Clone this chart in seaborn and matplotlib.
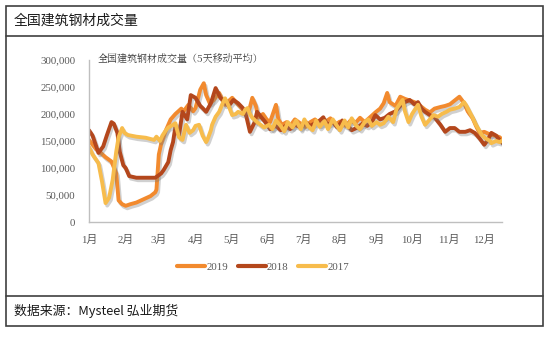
import numpy as np
import pandas as pd
import matplotlib
matplotlib.use("Agg")
import matplotlib.pyplot as plt
import matplotlib.patheffects as pe
from matplotlib.patches import Rectangle
from matplotlib.lines import Line2D
import seaborn as sns

# ---------------- data (day of year, volume in tonnes) ----------------
days_2019 = [0, 6, 10, 14, 19, 23, 25, 28, 31, 35, 40, 44, 48, 52, 56, 57, 59, 61, 65, 69,
             73, 78, 80, 84, 88, 90, 94, 97, 99, 102, 105, 110, 113, 115, 119, 121, 125, 128,
             131, 135, 138, 141, 143, 147, 150, 153, 158, 160, 163, 167, 170, 174, 179, 183,
             187, 191, 195, 200, 204, 208, 212, 217, 221, 225, 229, 233, 238, 242, 246, 249,
             252, 254, 259, 263, 267, 271, 275, 280, 284, 288, 292, 297, 301, 305, 309, 313,
             317, 320, 324, 327, 330, 334, 339, 343, 347, 350]
vals_2019 = [152, 135, 128, 120, 112, 90, 40, 33, 30, 33, 36, 40, 44, 48, 55, 60, 125, 145, 170, 190,
             200, 210, 205, 217, 205, 211, 245, 257, 235, 220, 225, 239, 225, 217, 226, 230, 220, 213,
             205, 204, 230, 215, 193, 200, 190, 185, 217, 190, 180, 185, 178, 190, 182, 176,
             185, 190, 180, 186, 192, 180, 186, 178, 188, 183, 193, 185, 195, 203, 210, 220,
             239, 222, 215, 232, 228, 225, 222, 215, 208, 203, 210, 213, 215, 218, 225, 232,
             220, 205, 193, 178, 165, 167, 162, 160, 157, 150]

days_2018 = [0, 3, 8, 12, 15, 19, 21, 24, 26, 29, 31, 34, 40, 48, 56, 61, 63, 67, 69, 71,
             73, 76, 79, 83, 86, 90, 94, 96, 99, 103, 107, 111, 115, 118, 122, 126, 130, 133,
             136, 140, 142, 146, 149, 153, 158, 162, 166, 170, 174, 179, 183, 187, 191, 195,
             198, 201, 206, 210, 214, 218, 222, 227, 231, 235, 239, 242, 246, 250, 254, 259,
             263, 267, 271, 275, 278, 281, 284, 288, 292, 297, 301, 305, 309, 313, 318, 322,
             326, 330, 334, 337, 340, 344, 347, 350]
vals_2018 = [170, 160, 128, 140, 160, 185, 182, 165, 130, 105, 100, 85, 82, 82, 82, 90, 96, 111, 133, 148,
             176, 160, 204, 190, 235, 230, 215, 211, 204, 220, 248, 230, 222, 215, 226, 220, 211, 195,
             167, 185, 204, 193, 185, 172, 178, 170, 178, 172, 180, 175, 185, 178, 183, 188,
             194, 180, 185, 175, 188, 180, 170, 175, 182, 178, 185, 198, 190, 193, 200, 205,
             215, 222, 226, 218, 222, 210, 204, 198, 194, 180, 167, 174, 174, 167, 167, 170,
             165, 155, 143, 152, 165, 160, 152, 145]

days_2017 = [0, 3, 8, 11, 14, 17, 20, 23, 25, 28, 30, 33, 40, 48, 55, 57, 60, 62, 65, 67,
             71, 73, 76, 79, 82, 85, 88, 90, 93, 96, 99, 100, 103, 104, 107, 110, 113, 115,
             118, 121, 124, 126, 130, 132, 134, 136, 138, 142, 145, 148, 152, 155, 158, 162,
             165, 168, 172, 175, 179, 182, 185, 189, 192, 195, 199, 202, 206, 209, 212, 216,
             219, 222, 226, 229, 233, 236, 239, 243, 246, 249, 253, 257, 260, 265, 267, 270,
             273, 278, 281, 284, 288, 291, 295, 298, 302, 305, 309, 313, 317, 319, 324, 327,
             332, 335, 339, 340, 344, 347, 350]
vals_2017 = [139, 125, 109, 75, 35, 45, 78, 130, 157, 174, 165, 161, 158, 156, 152, 158, 150, 160, 170, 175,
             180, 183, 157, 152, 180, 165, 170, 178, 180, 160, 148, 152, 170, 180, 195, 204, 220, 229,
             215, 198, 200, 204, 200, 208, 211, 200, 193, 185, 180, 175, 180, 172, 188, 178,
             168, 185, 175, 188, 172, 190, 178, 170, 188, 176, 187, 172, 190, 180, 170, 188,
             175, 192, 178, 172, 185, 190, 178, 185, 180, 183, 195, 185, 210, 226, 205, 185,
             200, 217, 195, 180, 190, 198, 195, 200, 204, 208, 210, 213, 222, 215, 194, 180,
             161, 155, 150, 146, 150, 148, 152]

years = ["2019", "2018", "2017"]
month_labels = ["1月", "2月", "3月", "4月", "5月", "6月", "7月", "8月", "9月", "10月", "11月", "12月"]
month_start_days = [0, 31, 59, 90, 120, 151, 181, 212, 243, 273, 304, 334]
y_ticks = [0, 50000, 100000, 150000, 200000, 250000, 300000]

series = {"2019": (days_2019, vals_2019),
          "2018": (days_2018, vals_2018),
          "2017": (days_2017, vals_2017)}
frames = []
for y in years:
    d, v = series[y]
    frames.append(pd.DataFrame({"day": d, "value": np.array(v) * 1000, "year": y}))
df = pd.concat(frames, ignore_index=True)

colors = {"2019": "#F28A2E", "2018": "#B4471C", "2017": "#F7BC4C"}

# ---------------- figure ----------------
sns.set_style("white")
plt.rcParams["font.family"] = ["Liberation Serif", "Noto Sans CJK SC", "DejaVu Sans"]

W, H = 550, 339
fig = plt.figure(figsize=(W / 100, H / 100), dpi=100)
ax = fig.add_axes([89 / W, 1 - 222 / H, (502 - 89) / W, (222 - 60) / H])

sns.lineplot(data=df, x="day", y="value", hue="year", hue_order=years,
             palette=colors, sort=False, estimator=None, linewidth=2.8,
             ax=ax, legend=False)

for line in ax.get_lines():
    line.set_solid_joinstyle("round")
    line.set_solid_capstyle("round")
    line.set_path_effects([pe.SimpleLineShadow(offset=(1.2, -1.8), shadow_color="#7a7a7a",
                                               alpha=0.35),
                           pe.Normal()])

ax.set_xlim(0, 349)
ax.set_ylim(0, 300000)
ax.set_xticks(month_start_days)
ax.set_xticklabels(month_labels)
ax.set_yticks(y_ticks)
ax.set_yticklabels([f"{t:,}" for t in y_ticks])
ax.set_xlabel("")
ax.set_ylabel("")
for s in ["top", "right"]:
    ax.spines[s].set_visible(False)
for s in ["left", "bottom"]:
    ax.spines[s].set_color("#bfbfbf")
    ax.spines[s].set_linewidth(1.0)
ax.tick_params(axis="both", length=0, labelsize=7.8, colors="#595959")
ax.tick_params(axis="x", pad=9)
ax.tick_params(axis="y", pad=10)

ax.text(0.02, 1.0, "全国建筑钢材成交量（5天移动平均）", transform=ax.transAxes,
        fontsize=7.2, color="#404040", va="center", ha="left",
        family=["Noto Serif CJK SC", "Noto Sans CJK SC", "DejaVu Sans"])

handles = [Line2D([0], [0], color=colors[y], lw=3) for y in years]
fig.legend(handles, years, loc="center", bbox_to_anchor=(263 / W, 1 - 267 / H),
           ncol=3, frameon=False, fontsize=7.8, handlelength=2.6, handletextpad=0.1,
           columnspacing=0.9, labelcolor="#595959")

# ---------------- frame and header / footer ----------------
border = "#3f3f3f"
fig.add_artist(Rectangle((6 / W, 1 - 326 / H), (543 - 6) / W, (326 - 6) / H,
                         transform=fig.transFigure, fill=False, edgecolor=border, lw=1.2))
fig.add_artist(Line2D([6 / W, 543 / W], [1 - 36 / H, 1 - 36 / H], transform=fig.transFigure,
                      color=border, lw=1.2))
fig.add_artist(Line2D([6 / W, 543 / W], [1 - 296 / H, 1 - 296 / H], transform=fig.transFigure,
                      color=border, lw=1.2))
fig.text(14 / W, 1 - 21 / H, "全国建筑钢材成交量", fontsize=10, color="#1a1a1a",
         va="center", ha="left", family=["Noto Sans CJK SC", "DejaVu Sans"])
fig.text(14 / W, 1 - 311 / H, "数据来源：Mysteel 弘业期货", fontsize=9.3, color="#1a1a1a",
         va="center", ha="left", family=["Noto Sans CJK SC", "DejaVu Sans"])

fig.savefig("out.png", dpi=100)
